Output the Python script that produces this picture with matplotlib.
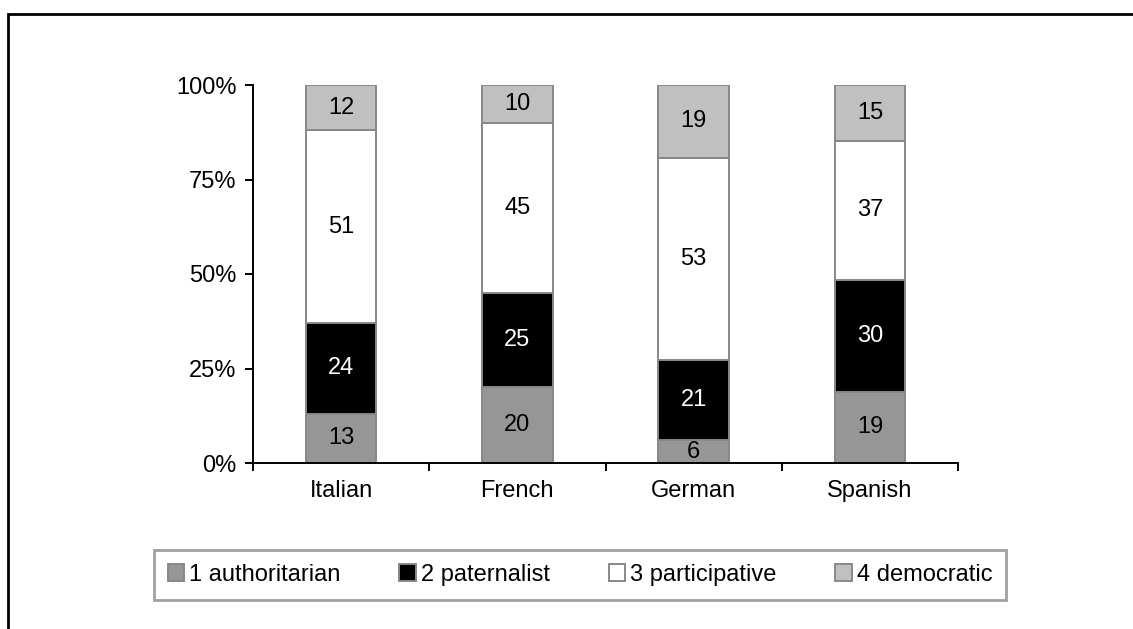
import matplotlib
matplotlib.use("Agg")
import matplotlib.pyplot as plt
from matplotlib.patches import Rectangle
import numpy as np

plt.rcParams['font.family'] = ['Liberation Sans', 'DejaVu Sans']

groups = ["Italian", "French", "German", "Spanish"]
series = ["1 authoritarian", "2 paternalist", "3 participative", "4 democratic"]
authoritarian = [13, 20, 6, 19]
paternalist = [24, 25, 21, 30]
participative = [51, 45, 53, 37]
democratic = [12, 10, 19, 15]
colors = ["#969696", "#000000", "#ffffff", "#c0c0c0"]
text_colors = ["black", "white", "black", "black"]

data = np.array([authoritarian, paternalist, participative, democratic], dtype=float)
totals = data.sum(axis=0)
pct = data / totals * 100

fs = 17
fig = plt.figure(figsize=(11.33, 6.29), dpi=100)
ax = fig.add_axes([253/1133, 1-463/629, (958-253)/1133, (463-85)/629])

x = np.arange(len(groups))
bottom = np.zeros(len(groups))
for i in range(len(series)):
    ax.bar(x, pct[i], 0.4, bottom=bottom, color=colors[i], edgecolor="#888888",
           linewidth=1.4, label=series[i], zorder=2)
    for j in range(len(groups)):
        ax.text(x[j], bottom[j] + pct[i][j]/2, str(int(data[i][j])), ha="center",
                va="center", fontsize=fs, color=text_colors[i], zorder=3)
    bottom += pct[i]

ax.set_xlim(-0.5, len(groups) - 0.5)
ax.set_ylim(0, 100)
ax.set_yticks([0, 25, 50, 75, 100])
ax.set_yticklabels(["0%", "25%", "50%", "75%", "100%"], fontsize=fs)
ax.set_xticks(x)
ax.set_xticklabels(groups, fontsize=fs)
ax.set_xticks(np.arange(-0.5, len(groups)), minor=True)
ax.tick_params(axis="x", which="major", length=0, pad=12)
ax.tick_params(axis="x", which="minor", length=6, width=1.4, direction="out")
ax.tick_params(axis="y", length=6, width=1.4, direction="out", pad=6)
for s in ["top", "right"]:
    ax.spines[s].set_visible(False)
for s in ["left", "bottom"]:
    ax.spines[s].set_linewidth(1.4)

leg = fig.legend(loc="center", bbox_to_anchor=(580/1133, 1-575/629), ncol=4,
                 fontsize=fs, frameon=True, fancybox=False, edgecolor="#888888",
                 handlelength=0.7, handleheight=0.7, handletextpad=0.2,
                 columnspacing=2.5, borderpad=0.6, borderaxespad=0)
leg.get_frame().set_linewidth(2)

# outer chart border (left and top visible)
fig.patches.append(Rectangle((8/1133, -0.1), 1.2, 1.1 - 14/629, transform=fig.transFigure,
                             fill=False, edgecolor="black", linewidth=2))

fig.savefig("out.png", dpi=100)
